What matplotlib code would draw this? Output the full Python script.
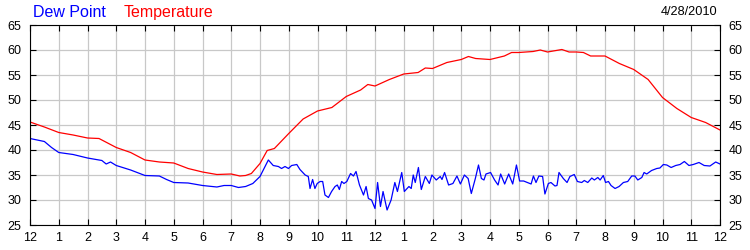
#! /usr/bin/env python3

import numpy as np
import matplotlib
matplotlib.use('Agg')
import matplotlib.pyplot as plt
plt.rcParams['font.family'] = ['Liberation Sans', 'DejaVu Sans']

# temperature, hours since midnight
temp_hours = [0, 0.5, 1, 1.5, 2, 2.4, 3, 3.5, 4, 4.5, 5, 5.5, 6, 6.5, 7, 7.3, 7.5, 7.7,
              8, 8.25, 8.5, 9, 9.5, 10, 10.5, 11, 11.5, 11.75, 12, 12.5, 13, 13.5, 13.75,
              14, 14.5, 15, 15.25, 15.5, 16, 16.5, 16.75, 17, 17.5, 17.75, 18, 18.5, 18.75,
              19, 19.25, 19.5, 20, 20.5, 21, 21.5, 22, 22.5, 23, 23.5, 24]
temp_vals = [45.6, 44.6, 43.5, 43.0, 42.4, 42.3, 40.5, 39.5, 38.0, 37.6, 37.4, 36.3, 35.6,
             35.1, 35.2, 34.8, 34.9, 35.3, 37.3, 39.9, 40.3, 43.3, 46.2, 47.8, 48.5, 50.7,
             52.0, 53.1, 52.8, 54.1, 55.2, 55.5, 56.4, 56.3, 57.5, 58.1, 58.7, 58.3, 58.1,
             58.8, 59.5, 59.5, 59.7, 60.0, 59.6, 60.1, 59.6, 59.6, 59.5, 58.8, 58.8, 57.3,
             56.1, 54.1, 50.5, 48.3, 46.5, 45.5, 44.0]

# dew point
dew_hours = [0, 0.5, 0.75, 1, 1.5, 2, 2.5, 2.65, 2.8, 3, 3.5, 4, 4.5, 4.75, 5, 5.5, 6, 6.5,
             6.75, 7, 7.25, 7.5, 7.75, 8, 8.29, 8.46, 8.64, 8.75, 8.87, 8.99, 9.10, 9.28,
             9.39, 9.57, 9.68, 9.74, 9.83, 9.91, 9.99, 10.09, 10.18, 10.26, 10.38, 10.49,
             10.61, 10.69, 10.76, 10.84, 10.92, 11.02, 11.15, 11.25, 11.34, 11.46, 11.6,
             11.69, 11.77, 11.88, 12.0, 12.09, 12.19, 12.28, 12.42, 12.56, 12.69, 12.78,
             12.93, 13.02, 13.18, 13.26, 13.33, 13.40, 13.51, 13.61, 13.75, 13.89, 13.98,
             14.13, 14.27, 14.33, 14.42, 14.56, 14.71, 14.85, 14.97, 15.11, 15.24, 15.35,
             15.49, 15.6, 15.7, 15.79, 15.86, 16.02, 16.16, 16.28, 16.37, 16.51, 16.65,
             16.79, 16.92, 17.03, 17.17, 17.43, 17.51, 17.6, 17.7, 17.83, 17.91, 18.03,
             18.12, 18.26, 18.33, 18.4, 18.55, 18.68, 18.78, 18.93, 19.04, 19.19, 19.28,
             19.4, 19.54, 19.63, 19.75, 19.83, 19.94, 20.02, 20.12, 20.21, 20.35, 20.49,
             20.64, 20.79, 20.93, 21.04, 21.14, 21.28, 21.36, 21.45, 21.62, 21.8, 21.91,
             22.03, 22.15, 22.3, 22.46, 22.61, 22.76, 22.92, 23.07, 23.27, 23.45, 23.65,
             23.85, 24.0]
dew_vals = [42.3, 41.7, 40.5, 39.5, 39.1, 38.4, 37.9, 37.2, 37.6, 36.9, 36.0, 34.9, 34.8,
            34.1, 33.5, 33.4, 32.9, 32.6, 32.9, 32.9, 32.5, 32.7, 33.3, 34.7, 38.0, 36.9,
            36.7, 36.3, 36.7, 36.3, 36.9, 37.1, 36.1, 35.0, 34.7, 32.3, 34.1, 32.3, 33.3,
            33.7, 33.7, 31.0, 30.5, 31.7, 32.7, 33.0, 32.1, 33.7, 33.3, 33.7, 35.3, 34.8,
            35.7, 33.0, 31.0, 32.7, 30.3, 30.0, 28.3, 33.5, 28.7, 31.7, 28.0, 30.0, 33.5,
            31.7, 35.5, 31.7, 32.7, 32.3, 35.0, 33.5, 36.5, 32.1, 34.7, 33.3, 35.0, 34.0,
            34.7, 34.1, 35.5, 33.0, 33.3, 34.8, 33.2, 35.0, 34.3, 31.3, 34.3, 37.0, 34.3,
            34.0, 35.2, 35.5, 34.0, 33.0, 35.2, 33.2, 35.2, 33.2, 37.0, 33.8, 33.8, 33.2,
            34.8, 33.5, 34.8, 34.7, 31.2, 33.3, 33.5, 32.8, 32.9, 35.5, 34.3, 33.5, 34.7,
            35.1, 33.7, 33.5, 33.9, 33.5, 34.4, 34.0, 34.5, 34.0, 34.9, 33.5, 33.7, 32.9,
            32.3, 32.7, 33.5, 33.7, 34.8, 34.8, 34.0, 34.5, 35.5, 35.2, 35.9, 36.3, 36.4,
            37.1, 37.0, 36.5, 36.9, 37.1, 37.7, 36.9, 37.1, 37.5, 36.9, 36.8, 37.6, 37.2]

hour_labels = ['12'] + [str(i) for i in range(1, 12)] + ['12'] + [str(i) for i in range(1, 12)] + ['12']
date_label = '4/28/2010'

fig = plt.figure(figsize=(7.5, 2.5), dpi=100)
ax = fig.add_axes([0.04, 0.1, 0.92, 0.8])

ax.plot(dew_hours, dew_vals, '-', color='#0000ff', linewidth=0.9)
ax.plot(temp_hours, temp_vals, '-', color='#ff0000', linewidth=0.9)

ax.set_xlim(0, 24)
ax.set_ylim(25, 65)
ax.set_xticks(np.arange(0, 25))
ax.set_xticklabels(hour_labels)
ax.set_yticks(np.arange(25, 66, 5))
ax.grid(True, color='#c8c8c8', linewidth=0.9)
ax.set_axisbelow(True)
ax.tick_params(axis='both', direction='in', length=4, width=0.8, labelsize=9,
               top=True, right=True, labelright=True)
ax.tick_params(axis='x', pad=5)
ax.tick_params(axis='y', pad=6)
for s in ax.spines.values():
    s.set_linewidth(0.8)

fig.text(0.044, 0.95, 'Dew Point', color='#0000ff', fontsize=11.5, va='center', ha='left')
fig.text(0.165, 0.95, 'Temperature', color='#ff0000', fontsize=11.5, va='center', ha='left')
fig.text(0.957, 0.952, date_label, color='black', fontsize=9.2, va='center', ha='right')

fig.savefig('out.png', dpi=100)
